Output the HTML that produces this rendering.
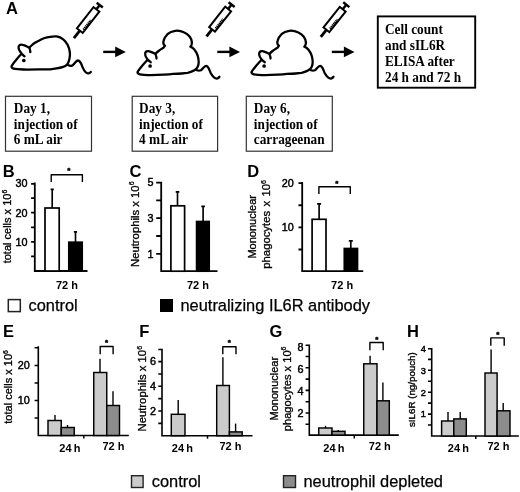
<!DOCTYPE html>
<html lang="en"><head><meta charset="utf-8"><title>Figure</title>
<style>
html,body{margin:0;padding:0;background:#fff;}
body{width:520px;height:492px;overflow:hidden;}
svg{display:block;}
text{fill:#000;}
</style></head><body>
<svg width="520" height="492" viewBox="0 0 520 492">
<rect width="520" height="492" fill="#fff"/>
<text x="6.00" y="13.60" font-family='"Liberation Sans", Arial, sans-serif' font-size="16.5" font-weight="bold">A</text>
<g transform="translate(73.90 38.20) rotate(-52.0)" stroke="#000" fill="none">
<path d="M0 0H9.6" stroke-width="2.8"/>
<rect x="9.6" y="-3.7" width="27.00" height="7.4" stroke-width="2" fill="#fff"/>
<path d="M12.6 2.3H24.6" stroke-width="2.4" stroke-dasharray="1.3 0.6"/>
<path d="M36.6 0H42.0" stroke-width="2.4"/>
<path d="M42.0 -3.9V3.9" stroke-width="2.4"/>
</g>
<g transform="translate(206.50 36.40) rotate(-51.7)" stroke="#000" fill="none">
<path d="M0 0H9.0" stroke-width="2.8"/>
<rect x="9.0" y="-3.7" width="25.90" height="7.4" stroke-width="2" fill="#fff"/>
<path d="M12.0 2.3H24.0" stroke-width="2.4" stroke-dasharray="1.3 0.6"/>
<path d="M34.9 0H40.5" stroke-width="2.4"/>
<path d="M40.5 -3.9V3.9" stroke-width="2.4"/>
</g>
<g transform="translate(320.80 36.80) rotate(-51.5)" stroke="#000" fill="none">
<path d="M0 0H9.0" stroke-width="2.8"/>
<rect x="9.0" y="-3.7" width="26.20" height="7.4" stroke-width="2" fill="#fff"/>
<path d="M12.0 2.3H24.0" stroke-width="2.4" stroke-dasharray="1.3 0.6"/>
<path d="M35.2 0H41.0" stroke-width="2.4"/>
<path d="M41.0 -3.9V3.9" stroke-width="2.4"/>
</g>
<path d="M103.2 51.9H118.8" stroke="#000" stroke-width="2.4" fill="none"/>
<path d="M125.8 51.9L115.2 46.5V57.3Z" fill="#000"/>
<path d="M217.3 51.9H233" stroke="#000" stroke-width="2.4" fill="none"/>
<path d="M240 51.9L229.4 46.5V57.3Z" fill="#000"/>
<path d="M331.8 51.9H347.5" stroke="#000" stroke-width="2.4" fill="none"/>
<path d="M354.5 51.9L343.9 46.5V57.3Z" fill="#000"/>
<path d="M24.5 56.3 C22.8 54.8 21.3 53.4 20.3 51.8 C19.3 50.6 18.6 49.3 18.6 48 C18.5 47 18.6 46.1 19.2 45.5 C20 44.8 21.4 44.6 22.6 44.8 C24 45 25.3 45.6 26.5 46.3 C27.5 46.8 28.4 47.3 29.2 47.8 C29.6 48.3 29.8 48.9 29.9 49.5 C30.2 50.4 30.3 51.3 30.3 52.2 M29.2 47.7 C30.5 46.3 31.9 45 33.4 43.8 C35.1 42.6 36.9 41.6 38.8 40.7 C40.7 39.6 42.6 38.7 44.5 38 C46.3 37.4 48.1 37 50 36.8 C52.2 36.4 54.4 36.2 56.6 36.4 C59 36.8 61.3 37.8 63.2 39.3 C65.1 40.8 66.5 42.7 67.6 44.8 C68.7 47.1 69.5 49.5 69.8 52 C70.1 54.2 70 56.4 69.5 58.5 C69.1 60.4 68.6 62.4 67.6 64 C66.5 65.4 64.9 66.3 63.2 66.8 C61 67.5 58.8 68 56.6 68.4 C54.4 68.8 52.2 69.1 50 69.3 C46.3 69.5 42.5 69.5 38.8 69.4 C33.7 69.5 28.5 69.6 23.4 69.5 C20 69.4 16.7 69.3 13.4 68.6 C12.5 68.4 11.7 67.9 11.5 66.8 C11.3 66 12 65.3 12.6 64.5 C13.8 62.8 15.1 61.1 16.5 59.5 C18.1 57.5 19.8 55.6 21.5 53.8 M68.1 65.1 C69.3 65.8 70.8 66.1 72 65.7 C73.4 65.1 74.2 63.5 75.2 62.4 C76 61.5 76.9 60.5 78 60.5 C79.2 60.5 80.1 61.8 80.7 62.9 C81.6 64.5 82.2 66.3 82.9 67.9 C83.6 69.5 84.5 71.1 85.7 72.3 C86.4 73 87.4 73.6 88.4 73.4 C89.4 73.2 90.2 72.6 90.8 71.9" stroke="#000" stroke-width="2.3" fill="none" stroke-linecap="round" stroke-linejoin="round"/>
<circle cx="23.8" cy="60.5" r="1.85" fill="#000"/>
<path d="M150.7 62.2 C149.4 61.2 148.2 60.1 147.2 58.9 C146.3 57.7 145.5 56.4 145.3 55.1 C145.1 54 145.1 52.8 145.7 52 C146.3 51.2 147.4 51.1 148.4 51.2 C149.7 51.4 151 51.9 152.2 52.4 C153.3 52.9 154.3 53.4 155.3 53.9 C155.7 54.5 155.9 55.1 156.1 55.8 C156.4 56.7 156.5 57.6 156.5 58.5 M155.3 53.9 C156.5 52.7 157.8 51.5 159.2 50.5 C160.6 49.3 162.2 48.3 163.8 47.4 C164.2 46.9 164.6 46.4 164.9 45.8 C164.3 45.1 163.6 44.4 163.4 43.5 C163.2 42.5 163.4 41.4 163.7 40.4 C164.3 38.1 165.7 36 167.5 34.2 C169.6 32.3 172.3 31.2 175.2 30.8 C178.1 30.4 181.2 31 183.8 32.3 C186.2 33.3 188.2 34.7 189.6 36.5 C190.9 38.2 191.7 40.2 191.9 42.3 C192 43.8 191.6 45.6 190.4 46.7 C192 47.3 193.3 48.3 194.3 49.4 C195.8 51.2 196.9 53.3 197.6 55.4 C198.3 57.5 198.7 59.8 198.7 62 C198.7 63.7 198.4 65.5 197.6 67 C196.9 68.4 195.7 69.5 194.4 70.3 C192.6 71.5 190.2 72.3 187.7 72.8 C183 73.5 178 73.7 173 73.9 C170 74.3 167 74.5 163.8 74.7 C158.7 75 153.5 75.2 148.4 75.1 C145.6 75 142.7 74.8 139.9 74.3 C138.9 74.1 138 73.7 137.6 72.8 C137.3 72.3 137.6 71.7 138 71.2 C139.3 69.4 140.7 67.6 142.2 65.8 C143.9 63.7 145.7 61.7 147.6 59.7 M197 70.3 C198.3 70.8 199.7 70.8 200.9 70.3 C202 69.6 202.7 68.4 203.6 67.5 C204.4 66.7 205.3 65.9 206.3 65.9 C207.3 66 208 67.1 208.5 68.1 C209.3 69.7 210 71.4 210.7 73 C211.6 74.7 212.7 76.3 214 77.4 C215 78.2 216.2 78.7 217.3 78.5 C218.2 78.3 218.9 77.6 219.5 76.8" stroke="#000" stroke-width="2.3" fill="none" stroke-linecap="round" stroke-linejoin="round"/>
<circle cx="150.1" cy="66" r="1.85" fill="#000"/>
<g transform="translate(114 0)"><path d="M150.7 62.2 C149.4 61.2 148.2 60.1 147.2 58.9 C146.3 57.7 145.5 56.4 145.3 55.1 C145.1 54 145.1 52.8 145.7 52 C146.3 51.2 147.4 51.1 148.4 51.2 C149.7 51.4 151 51.9 152.2 52.4 C153.3 52.9 154.3 53.4 155.3 53.9 C155.7 54.5 155.9 55.1 156.1 55.8 C156.4 56.7 156.5 57.6 156.5 58.5 M155.3 53.9 C156.5 52.7 157.8 51.5 159.2 50.5 C160.6 49.3 162.2 48.3 163.8 47.4 C164.2 46.9 164.6 46.4 164.9 45.8 C164.3 45.1 163.6 44.4 163.4 43.5 C163.2 42.5 163.4 41.4 163.7 40.4 C164.3 38.1 165.7 36 167.5 34.2 C169.6 32.3 172.3 31.2 175.2 30.8 C178.1 30.4 181.2 31 183.8 32.3 C186.2 33.3 188.2 34.7 189.6 36.5 C190.9 38.2 191.7 40.2 191.9 42.3 C192 43.8 191.6 45.6 190.4 46.7 C192 47.3 193.3 48.3 194.3 49.4 C195.8 51.2 196.9 53.3 197.6 55.4 C198.3 57.5 198.7 59.8 198.7 62 C198.7 63.7 198.4 65.5 197.6 67 C196.9 68.4 195.7 69.5 194.4 70.3 C192.6 71.5 190.2 72.3 187.7 72.8 C183 73.5 178 73.7 173 73.9 C170 74.3 167 74.5 163.8 74.7 C158.7 75 153.5 75.2 148.4 75.1 C145.6 75 142.7 74.8 139.9 74.3 C138.9 74.1 138 73.7 137.6 72.8 C137.3 72.3 137.6 71.7 138 71.2 C139.3 69.4 140.7 67.6 142.2 65.8 C143.9 63.7 145.7 61.7 147.6 59.7 M197 70.3 C198.3 70.8 199.7 70.8 200.9 70.3 C202 69.6 202.7 68.4 203.6 67.5 C204.4 66.7 205.3 65.9 206.3 65.9 C207.3 66 208 67.1 208.5 68.1 C209.3 69.7 210 71.4 210.7 73 C211.6 74.7 212.7 76.3 214 77.4 C215 78.2 216.2 78.7 217.3 78.5 C218.2 78.3 218.9 77.6 219.5 76.8" stroke="#000" stroke-width="2.3" fill="none" stroke-linecap="round" stroke-linejoin="round"/><circle cx="150.1" cy="66" r="1.85" fill="#000"/></g>
<rect x="5.5" y="96.3" width="86.0" height="54.89999999999999" fill="#fff" stroke="#333" stroke-width="1.2"/>
<text transform="translate(13.8 113.20) scale(1 1.06)" font-family='"Liberation Serif", "Times New Roman", serif' font-size="13.3" font-weight="bold">Day 1,</text>
<text transform="translate(13.8 128.70) scale(1 1.06)" font-family='"Liberation Serif", "Times New Roman", serif' font-size="13.3" font-weight="bold">injection of</text>
<text transform="translate(13.8 144.20) scale(1 1.06)" font-family='"Liberation Serif", "Times New Roman", serif' font-size="13.3" font-weight="bold">6 mL air</text>
<rect x="132.2" y="96.3" width="85.4" height="54.89999999999999" fill="#fff" stroke="#333" stroke-width="1.2"/>
<text transform="translate(139.1 113.20) scale(1 1.06)" font-family='"Liberation Serif", "Times New Roman", serif' font-size="13.3" font-weight="bold">Day 3,</text>
<text transform="translate(139.1 128.70) scale(1 1.06)" font-family='"Liberation Serif", "Times New Roman", serif' font-size="13.3" font-weight="bold">injection of</text>
<text transform="translate(139.1 144.20) scale(1 1.06)" font-family='"Liberation Serif", "Times New Roman", serif' font-size="13.3" font-weight="bold">4 mL air</text>
<rect x="246.3" y="96.3" width="86.0" height="54.89999999999999" fill="#fff" stroke="#333" stroke-width="1.2"/>
<text transform="translate(253.8 113.20) scale(1 1.06)" font-family='"Liberation Serif", "Times New Roman", serif' font-size="13.3" font-weight="bold">Day 6,</text>
<text transform="translate(253.8 128.70) scale(1 1.06)" font-family='"Liberation Serif", "Times New Roman", serif' font-size="13.3" font-weight="bold">injection of</text>
<text transform="translate(253.8 144.20) scale(1 1.06)" font-family='"Liberation Serif", "Times New Roman", serif' font-size="13.3" font-weight="bold">carrageenan</text>
<rect x="377.8" y="16.4" width="97.39999999999998" height="71.30000000000001" fill="#fff" stroke="#000" stroke-width="1.9"/>
<text transform="translate(385 33.70) scale(1 1.06)" font-family='"Liberation Serif", "Times New Roman", serif' font-size="13.3" font-weight="bold">Cell count</text>
<text transform="translate(385 49.85) scale(1 1.06)" font-family='"Liberation Serif", "Times New Roman", serif' font-size="13.3" font-weight="bold">and sIL6R</text>
<text transform="translate(385 66.00) scale(1 1.06)" font-family='"Liberation Serif", "Times New Roman", serif' font-size="13.3" font-weight="bold">ELISA after</text>
<text transform="translate(385 82.15) scale(1 1.06)" font-family='"Liberation Serif", "Times New Roman", serif' font-size="13.3" font-weight="bold">24 h and 72 h</text>
<text x="2.65" y="177.00" font-family='"Liberation Sans", Arial, sans-serif' font-size="16.5" font-weight="bold">B</text>
<path d="M34.80 182.60V271.00H87.50M31.10 183.85H34.80M31.10 198.12H34.80M31.10 212.70H34.80M31.10 227.28H34.80M31.10 241.85H34.80M31.10 256.43H34.80" stroke="#000" stroke-width="1.8" fill="none"/>
<text x="27.40" y="187.44" font-family='"Liberation Sans", Arial, sans-serif' font-size="10.8" stroke="#000" stroke-width="0.45" text-anchor="end">30</text>
<text x="27.40" y="216.59" font-family='"Liberation Sans", Arial, sans-serif' font-size="10.8" stroke="#000" stroke-width="0.45" text-anchor="end">20</text>
<text x="27.40" y="245.74" font-family='"Liberation Sans", Arial, sans-serif' font-size="10.8" stroke="#000" stroke-width="0.45" text-anchor="end">10</text>
<rect x="45.00" y="208.00" width="14.20" height="63.00" fill="#fff" stroke="#000" stroke-width="1.7"/>
<path d="M52.20 208.00V189.30M50.60 189.30H53.80" stroke="#000" stroke-width="1.65" fill="none"/>
<rect x="68.80" y="242.20" width="13.40" height="28.80" fill="#000" stroke="#000" stroke-width="1.7"/>
<path d="M75.50 242.20V231.80M73.90 231.80H77.10" stroke="#000" stroke-width="1.65" fill="none"/>
<path d="M51.20 182.00V174.70H82.40V182.00" stroke="#000" stroke-width="1.4" fill="none" stroke-linejoin="round"/>
<text x="68.80" y="173.00" font-family='"Liberation Sans", Arial, sans-serif' font-size="8" font-weight="bold" stroke="#000" stroke-width="0.5" text-anchor="middle">*</text>
<text x="56.00" y="289.10" font-family='"Liberation Sans", Arial, sans-serif' font-size="11" font-weight="bold" word-spacing="0">72 h</text>
<text transform="translate(11.20 263.30) rotate(-90)" word-spacing="0" stroke="#000" stroke-width="0.3" font-family='"Liberation Sans", Arial, sans-serif' font-size="11">total cells x 10<tspan dy="-4.18" font-size="6.82">6</tspan></text>
<text x="129.60" y="177.20" font-family='"Liberation Sans", Arial, sans-serif' font-size="16.5" font-weight="bold">C</text>
<path d="M161.20 181.80V271.20H217.50M156.20 182.60H161.20M156.20 200.40H161.20M156.20 218.20H161.20M156.20 236.00H161.20M156.20 253.80H161.20" stroke="#000" stroke-width="1.8" fill="none"/>
<text x="153.40" y="186.49" font-family='"Liberation Sans", Arial, sans-serif' font-size="10.8" stroke="#000" stroke-width="0.45" text-anchor="end">5</text>
<text x="153.40" y="222.09" font-family='"Liberation Sans", Arial, sans-serif' font-size="10.8" stroke="#000" stroke-width="0.45" text-anchor="end">3</text>
<text x="153.40" y="257.69" font-family='"Liberation Sans", Arial, sans-serif' font-size="10.8" stroke="#000" stroke-width="0.45" text-anchor="end">1</text>
<rect x="170.90" y="205.80" width="13.70" height="65.40" fill="#fff" stroke="#000" stroke-width="1.7"/>
<path d="M177.50 205.80V191.80M175.70 191.80H179.30" stroke="#000" stroke-width="1.65" fill="none"/>
<rect x="196.60" y="221.50" width="12.60" height="49.70" fill="#000" stroke="#000" stroke-width="1.7"/>
<path d="M203.10 221.50V206.30M201.30 206.30H204.90" stroke="#000" stroke-width="1.65" fill="none"/>
<text x="187.00" y="289.10" font-family='"Liberation Sans", Arial, sans-serif' font-size="11" font-weight="bold" word-spacing="0">72 h</text>
<text transform="translate(138.50 267.00) rotate(-90)" word-spacing="0" stroke="#000" stroke-width="0.3" font-family='"Liberation Sans", Arial, sans-serif' font-size="11.3">Neutrophils x 10<tspan dy="-4.29" font-size="7.01">6</tspan></text>
<text x="247.30" y="177.00" font-family='"Liberation Sans", Arial, sans-serif' font-size="16.5" font-weight="bold">D</text>
<path d="M302.20 182.00V271.10H363.20M298.50 183.10H302.20M298.50 205.23H302.20M298.50 227.35H302.20M298.50 249.48H302.20" stroke="#000" stroke-width="1.8" fill="none"/>
<text x="293.80" y="186.99" font-family='"Liberation Sans", Arial, sans-serif' font-size="10.8" stroke="#000" stroke-width="0.45" text-anchor="end">20</text>
<text x="293.80" y="231.24" font-family='"Liberation Sans", Arial, sans-serif' font-size="10.8" stroke="#000" stroke-width="0.45" text-anchor="end">10</text>
<rect x="312.10" y="219.30" width="13.90" height="51.80" fill="#fff" stroke="#000" stroke-width="1.7"/>
<path d="M319.10 219.30V203.80M317.10 203.80H321.10" stroke="#000" stroke-width="1.65" fill="none"/>
<rect x="344.30" y="248.50" width="13.20" height="22.60" fill="#000" stroke="#000" stroke-width="1.7"/>
<path d="M350.80 248.50V240.80M348.80 240.80H352.80" stroke="#000" stroke-width="1.65" fill="none"/>
<path d="M318.90 194.10V186.80H350.30V194.10" stroke="#000" stroke-width="1.4" fill="none" stroke-linejoin="round"/>
<text x="336.70" y="185.80" font-family='"Liberation Sans", Arial, sans-serif' font-size="8" font-weight="bold" stroke="#000" stroke-width="0.5" text-anchor="middle">*</text>
<text x="331.10" y="289.10" font-family='"Liberation Sans", Arial, sans-serif' font-size="11" font-weight="bold" word-spacing="0">72 h</text>
<text transform="translate(256.00 258.60) rotate(-90)" word-spacing="0" stroke="#000" stroke-width="0.3" font-family='"Liberation Sans", Arial, sans-serif' font-size="11">Mononuclear</text>
<text transform="translate(270.40 268.70) rotate(-90)" word-spacing="1.2" stroke="#000" stroke-width="0.3" font-family='"Liberation Sans", Arial, sans-serif' font-size="11.3">phagocytes x 10<tspan dy="-4.29" font-size="7.01">6</tspan></text>
<rect x="8.3" y="299.6" width="12" height="12" fill="#fff" stroke="#222" stroke-width="1.5"/>
<text x="28.5" y="311.4" stroke="#000" stroke-width="0.25" font-family='"Liberation Sans", Arial, sans-serif' font-size="16.4">control</text>
<rect x="160" y="299" width="13" height="13" fill="#000"/>
<text x="180.5" y="311.4" stroke="#000" stroke-width="0.25" font-family='"Liberation Sans", Arial, sans-serif' font-size="16.4">neutralizing IL6R antibody</text>
<text x="3.00" y="337.00" font-family='"Liberation Sans", Arial, sans-serif' font-size="16.5" font-weight="bold">E</text>
<path d="M38.30 346.30V435.50H128.80M34.60 347.70H38.30M34.60 365.50H38.30M34.60 383.00H38.30M34.60 400.50H38.30M34.60 418.00H38.30" stroke="#000" stroke-width="1.6" fill="none"/>
<path d="M83.8 435.5V438.5" stroke="#000" stroke-width="1.5"/>
<text x="29.80" y="369.39" font-family='"Liberation Sans", Arial, sans-serif' font-size="10.8" stroke="#000" stroke-width="0.45" text-anchor="end">20</text>
<text x="29.80" y="404.39" font-family='"Liberation Sans", Arial, sans-serif' font-size="10.8" stroke="#000" stroke-width="0.45" text-anchor="end">10</text>
<rect x="48.00" y="420.50" width="13.25" height="15.00" fill="#cbcbcb" stroke="#000" stroke-width="1.45"/>
<path d="M55.00 420.50V415.00M55.00 415.00H55.00" stroke="#000" stroke-width="1.4" fill="none"/>
<rect x="61.25" y="427.50" width="13.00" height="8.00" fill="#8c8c8c" stroke="#000" stroke-width="1.45"/>
<path d="M67.50 427.50V425.00M67.50 425.00H67.50" stroke="#000" stroke-width="1.4" fill="none"/>
<rect x="93.75" y="372.50" width="13.00" height="63.00" fill="#cbcbcb" stroke="#000" stroke-width="1.45"/>
<path d="M100.00 372.50V358.80M100.00 358.80H100.00" stroke="#000" stroke-width="1.4" fill="none"/>
<rect x="106.75" y="405.50" width="12.75" height="30.00" fill="#8c8c8c" stroke="#000" stroke-width="1.45"/>
<path d="M113.00 405.50V391.30M113.00 391.30H113.00" stroke="#000" stroke-width="1.4" fill="none"/>
<path d="M100.20 354.20V346.50H113.10V354.20" stroke="#000" stroke-width="1.4" fill="none" stroke-linejoin="round"/>
<text x="106.50" y="345.30" font-family='"Liberation Sans", Arial, sans-serif' font-size="8" font-weight="bold" stroke="#000" stroke-width="0.5" text-anchor="middle">*</text>
<text x="59.30" y="451.50" font-family='"Liberation Sans", Arial, sans-serif' font-size="11" font-weight="bold" word-spacing="-0.8">24 h</text>
<text x="102.50" y="449.50" font-family='"Liberation Sans", Arial, sans-serif' font-size="11" font-weight="bold" word-spacing="0">72 h</text>
<text transform="translate(12.20 423.70) rotate(-90)" word-spacing="0" stroke="#000" stroke-width="0.3" font-family='"Liberation Sans", Arial, sans-serif' font-size="11">total cells x 10<tspan dy="-4.18" font-size="6.82">6</tspan></text>
<text x="139.20" y="337.00" font-family='"Liberation Sans", Arial, sans-serif' font-size="16.5" font-weight="bold">F</text>
<path d="M162.00 348.80V435.70H252.50M158.30 349.55H162.00M158.30 361.60H162.00M158.30 373.95H162.00M158.30 386.30H162.00M158.30 398.65H162.00M158.30 411.00H162.00M158.30 423.35H162.00" stroke="#000" stroke-width="1.6" fill="none"/>
<path d="M207.5 435.7V438.7" stroke="#000" stroke-width="1.5"/>
<text x="155.90" y="365.49" font-family='"Liberation Sans", Arial, sans-serif' font-size="10.8" stroke="#000" stroke-width="0.45" text-anchor="end">6</text>
<text x="155.90" y="390.19" font-family='"Liberation Sans", Arial, sans-serif' font-size="10.8" stroke="#000" stroke-width="0.45" text-anchor="end">4</text>
<text x="155.90" y="414.89" font-family='"Liberation Sans", Arial, sans-serif' font-size="10.8" stroke="#000" stroke-width="0.45" text-anchor="end">2</text>
<rect x="171.30" y="414.30" width="13.70" height="21.40" fill="#cbcbcb" stroke="#000" stroke-width="1.45"/>
<path d="M178.20 414.30V400.00M178.20 400.00H178.20" stroke="#000" stroke-width="1.4" fill="none"/>
<rect x="216.70" y="385.50" width="12.70" height="50.20" fill="#cbcbcb" stroke="#000" stroke-width="1.45"/>
<path d="M222.90 385.50V357.30M222.90 357.30H222.90" stroke="#000" stroke-width="1.4" fill="none"/>
<rect x="229.40" y="431.90" width="12.80" height="3.80" fill="#8c8c8c" stroke="#000" stroke-width="1.45"/>
<path d="M235.60 431.90V423.60M235.60 423.60H235.60" stroke="#000" stroke-width="1.4" fill="none"/>
<path d="M222.80 354.20V346.70H236.00V354.20" stroke="#000" stroke-width="1.4" fill="none" stroke-linejoin="round"/>
<text x="229.20" y="345.30" font-family='"Liberation Sans", Arial, sans-serif' font-size="8" font-weight="bold" stroke="#000" stroke-width="0.5" text-anchor="middle">*</text>
<text x="171.80" y="451.50" font-family='"Liberation Sans", Arial, sans-serif' font-size="11" font-weight="bold" word-spacing="-0.8">24 h</text>
<text x="219.50" y="449.50" font-family='"Liberation Sans", Arial, sans-serif' font-size="11" font-weight="bold" word-spacing="0">72 h</text>
<text transform="translate(146.10 431.50) rotate(-90)" word-spacing="0" stroke="#000" stroke-width="0.3" font-family='"Liberation Sans", Arial, sans-serif' font-size="11.3">Neutrophils x 10<tspan dy="-4.29" font-size="7.01">6</tspan></text>
<text x="269.60" y="337.20" font-family='"Liberation Sans", Arial, sans-serif' font-size="16.5" font-weight="bold">G</text>
<path d="M309.30 344.60V435.10H398.80M305.60 345.20H309.30M305.60 356.50H309.30M305.60 367.80H309.30M305.60 379.10H309.30M305.60 390.40H309.30M305.60 401.70H309.30M305.60 413.00H309.30M305.60 424.30H309.30" stroke="#000" stroke-width="1.6" fill="none"/>
<path d="M354.3 435.1V438.5" stroke="#000" stroke-width="1.5"/>
<text x="303.40" y="351.49" font-family='"Liberation Sans", Arial, sans-serif' font-size="10.8" stroke="#000" stroke-width="0.45" text-anchor="end">8</text>
<text x="303.40" y="372.89" font-family='"Liberation Sans", Arial, sans-serif' font-size="10.8" stroke="#000" stroke-width="0.45" text-anchor="end">6</text>
<text x="303.40" y="395.29" font-family='"Liberation Sans", Arial, sans-serif' font-size="10.8" stroke="#000" stroke-width="0.45" text-anchor="end">4</text>
<text x="303.40" y="416.89" font-family='"Liberation Sans", Arial, sans-serif' font-size="10.8" stroke="#000" stroke-width="0.45" text-anchor="end">2</text>
<rect x="318.75" y="428.00" width="13.25" height="7.10" fill="#cbcbcb" stroke="#000" stroke-width="1.45"/>
<path d="M325.50 428.00V425.80M325.50 425.80H325.50" stroke="#000" stroke-width="1.4" fill="none"/>
<rect x="332.00" y="431.30" width="13.00" height="3.80" fill="#8c8c8c" stroke="#000" stroke-width="1.45"/>
<path d="M338.30 431.30V430.00M338.30 430.00H338.30" stroke="#000" stroke-width="1.4" fill="none"/>
<rect x="363.75" y="363.80" width="13.25" height="71.30" fill="#cbcbcb" stroke="#000" stroke-width="1.45"/>
<path d="M370.10 363.80V355.80M370.10 355.80H370.10" stroke="#000" stroke-width="1.4" fill="none"/>
<rect x="377.00" y="400.80" width="12.30" height="34.30" fill="#8c8c8c" stroke="#000" stroke-width="1.45"/>
<path d="M382.90 400.80V382.50M382.90 382.50H382.90" stroke="#000" stroke-width="1.4" fill="none"/>
<path d="M369.90 350.20V342.50H383.20V350.20" stroke="#000" stroke-width="1.4" fill="none" stroke-linejoin="round"/>
<text x="376.90" y="341.50" font-family='"Liberation Sans", Arial, sans-serif' font-size="8" font-weight="bold" stroke="#000" stroke-width="0.5" text-anchor="middle">*</text>
<text x="323.30" y="451.50" font-family='"Liberation Sans", Arial, sans-serif' font-size="11" font-weight="bold" word-spacing="-0.8">24 h</text>
<text x="368.80" y="449.50" font-family='"Liberation Sans", Arial, sans-serif' font-size="11" font-weight="bold" word-spacing="0">72 h</text>
<text transform="translate(277.70 420.50) rotate(-90)" word-spacing="0" stroke="#000" stroke-width="0.3" font-family='"Liberation Sans", Arial, sans-serif' font-size="11">Mononuclear</text>
<text transform="translate(290.70 431.20) rotate(-90)" word-spacing="0" stroke="#000" stroke-width="0.3" font-family='"Liberation Sans", Arial, sans-serif' font-size="11.1">phagocytes x 10<tspan dy="-4.22" font-size="6.88">6</tspan></text>
<text x="406.90" y="337.00" font-family='"Liberation Sans", Arial, sans-serif' font-size="16.5" font-weight="bold">H</text>
<path d="M431.70 348.00V436.00H518.80M428.00 348.70H431.70M428.00 359.35H431.70M428.00 370.30H431.70M428.00 381.25H431.70M428.00 392.20H431.70M428.00 403.15H431.70M428.00 414.10H431.70M428.00 425.05H431.70" stroke="#000" stroke-width="1.6" fill="none"/>
<path d="M475.8 436.0V439.0" stroke="#000" stroke-width="1.5"/>
<text x="425.80" y="351.71" font-family='"Liberation Sans", Arial, sans-serif' font-size="9.2" stroke="#000" stroke-width="0.45" text-anchor="end">4</text>
<text x="425.80" y="373.61" font-family='"Liberation Sans", Arial, sans-serif' font-size="9.2" stroke="#000" stroke-width="0.45" text-anchor="end">3</text>
<text x="425.80" y="395.51" font-family='"Liberation Sans", Arial, sans-serif' font-size="9.2" stroke="#000" stroke-width="0.45" text-anchor="end">2</text>
<text x="425.80" y="417.41" font-family='"Liberation Sans", Arial, sans-serif' font-size="9.2" stroke="#000" stroke-width="0.45" text-anchor="end">1</text>
<rect x="441.60" y="421.00" width="12.20" height="15.00" fill="#cbcbcb" stroke="#000" stroke-width="1.45"/>
<path d="M448.00 421.00V412.00M448.00 412.00H448.00" stroke="#000" stroke-width="1.4" fill="none"/>
<rect x="453.80" y="418.90" width="12.50" height="17.10" fill="#8c8c8c" stroke="#000" stroke-width="1.45"/>
<path d="M460.20 418.90V412.00M460.20 412.00H460.20" stroke="#000" stroke-width="1.4" fill="none"/>
<rect x="485.00" y="373.00" width="12.10" height="63.00" fill="#cbcbcb" stroke="#000" stroke-width="1.45"/>
<path d="M491.10 373.00V349.60M491.10 349.60H491.10" stroke="#000" stroke-width="1.4" fill="none"/>
<rect x="497.10" y="410.80" width="12.90" height="25.20" fill="#8c8c8c" stroke="#000" stroke-width="1.45"/>
<path d="M503.20 410.80V403.00M503.20 403.00H503.20" stroke="#000" stroke-width="1.4" fill="none"/>
<path d="M490.80 345.80V337.90H504.20V345.80" stroke="#000" stroke-width="1.4" fill="none" stroke-linejoin="round"/>
<text x="497.80" y="336.90" font-family='"Liberation Sans", Arial, sans-serif' font-size="8" font-weight="bold" stroke="#000" stroke-width="0.5" text-anchor="middle">*</text>
<text x="447.80" y="451.50" font-family='"Liberation Sans", Arial, sans-serif' font-size="11" font-weight="bold" word-spacing="-0.8">24 h</text>
<text x="487.50" y="449.50" font-family='"Liberation Sans", Arial, sans-serif' font-size="11" font-weight="bold" word-spacing="0">72 h</text>
<text transform="translate(414.90 427.00) rotate(-90)" word-spacing="0" stroke="#000" stroke-width="0.35" font-family='"Liberation Sans", Arial, sans-serif' font-size="9.75">sIL6R (ng/pouch)</text>
<rect x="131.5" y="475.7" width="11.6" height="11.8" fill="#cbcbcb" stroke="#222" stroke-width="1.4"/>
<text x="151.8" y="487.3" stroke="#000" stroke-width="0.25" font-family='"Liberation Sans", Arial, sans-serif' font-size="16.4">control</text>
<rect x="283.5" y="475.7" width="12" height="11.8" fill="#8c8c8c" stroke="#222" stroke-width="1.4"/>
<text x="303.5" y="487.3" stroke="#000" stroke-width="0.25" font-family='"Liberation Sans", Arial, sans-serif' font-size="16.4">neutrophil depleted</text>
</svg>
</body></html>
